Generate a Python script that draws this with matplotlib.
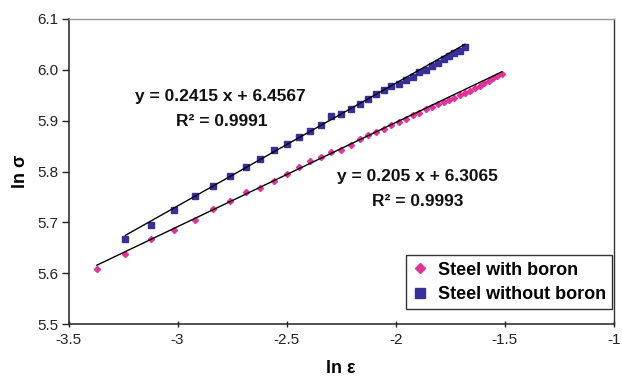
import matplotlib
matplotlib.use("Agg")
import matplotlib.pyplot as plt
import numpy as np

plt.rcParams['font.family'] = ['Liberation Sans', 'DejaVu Sans']

# ---- data ----
x_boron = [-3.370, -3.239, -3.121, -3.017, -2.922, -2.838, -2.758, -2.688, -2.621, -2.558,
           -2.497, -2.444, -2.391, -2.341, -2.295, -2.249, -2.206, -2.165, -2.127, -2.089,
           -2.055, -2.020, -1.985, -1.954, -1.923, -1.893, -1.862, -1.835, -1.807, -1.780,
           -1.756, -1.731, -1.706, -1.683, -1.661, -1.638, -1.615, -1.595, -1.575, -1.555,
           -1.535, -1.515]
y_boron = [5.608, 5.637, 5.667, 5.685, 5.704, 5.727, 5.741, 5.760, 5.768, 5.781,
           5.795, 5.808, 5.821, 5.829, 5.838, 5.843, 5.852, 5.863, 5.871, 5.878,
           5.884, 5.891, 5.898, 5.904, 5.911, 5.916, 5.922, 5.927, 5.932, 5.937,
           5.941, 5.945, 5.950, 5.954, 5.959, 5.964, 5.969, 5.974, 5.978, 5.983,
           5.987, 5.991]

x_noboron = [-3.239, -3.121, -3.017, -2.922, -2.838, -2.758, -2.688, -2.621, -2.558,
             -2.497, -2.444, -2.391, -2.341, -2.295, -2.249, -2.206, -2.165, -2.127, -2.089,
             -2.055, -2.020, -1.985, -1.954, -1.923, -1.893, -1.862, -1.835, -1.807, -1.780,
             -1.756, -1.731, -1.706, -1.683]
y_noboron = [5.667, 5.695, 5.724, 5.751, 5.771, 5.791, 5.809, 5.824, 5.842,
             5.855, 5.867, 5.879, 5.892, 5.909, 5.913, 5.922, 5.932, 5.942, 5.953,
             5.960, 5.968, 5.973, 5.980, 5.986, 5.995, 6.000, 6.008, 6.014, 6.021,
             6.027, 6.033, 6.038, 6.044]

# trend line coefficients (slope, intercept)
fit_boron = (0.205, 6.3065)
fit_noboron = (0.2415, 6.4567)

series_labels = ["Steel with boron", "Steel without boron"]
eq_boron = ["y = 0.205 x + 6.3065", "R\u00b2 = 0.9993"]
eq_noboron = ["y = 0.2415 x + 6.4567", "R\u00b2 = 0.9991"]

xticks = [-3.5, -3, -2.5, -2, -1.5, -1]
xtick_labels = ["-3.5", "-3", "-2.5", "-2", "-1.5", "-1"]
yticks = [5.5, 5.6, 5.7, 5.8, 5.9, 6.0, 6.1]
ytick_labels = ["5.5", "5.6", "5.7", "5.8", "5.9", "6.0", "6.1"]

pink = '#E2339A'
navy = '#3A2F98'

fig = plt.figure(figsize=(6.22, 3.76), dpi=100)
left_px, right_px, top_px, bot_px = 68.5, 614.0, 19.0, 324.0
ax = fig.add_axes([left_px / 622, 1 - bot_px / 376, (right_px - left_px) / 622, (bot_px - top_px) / 376])

# trend lines
for xs, (m, b) in ((x_boron, fit_boron), (x_noboron, fit_noboron)):
    xl = np.array([min(xs), max(xs)])
    ax.plot(xl, m * xl + b, color='black', lw=1.0, zorder=3)

ax.plot(x_boron, y_boron, linestyle='none', marker='D', ms=3.1, color=pink,
        mec=pink, label=series_labels[0], zorder=2)
ax.plot(x_noboron, y_noboron, linestyle='none', marker='s', ms=4.1, color=navy,
        mec=navy, label=series_labels[1], zorder=2)

ax.set_xlim(-3.5, -1)
ax.set_ylim(5.5, 6.1)
ax.set_xticks(xticks)
ax.set_xticklabels(xtick_labels)
ax.set_yticks(yticks)
ax.set_yticklabels(ytick_labels)
ax.tick_params(axis='y', direction='out', length=5, width=1, labelsize=11, colors='#222222', pad=2)
ax.tick_params(axis='x', direction='inout', length=5, width=1, labelsize=11, colors='#222222', pad=4)

for s in ('left', 'bottom'):
    ax.spines[s].set_color('#222222')
    ax.spines[s].set_linewidth(1.1)
ax.spines['top'].set_color('#999999')
ax.spines['top'].set_linewidth(1.0)
ax.spines['right'].set_color('#333333')
ax.spines['right'].set_linewidth(1.0)

ax.set_xlabel("ln \u03b5", fontsize=13, fontweight='bold', labelpad=9)
ax.set_ylabel("ln \u03c3", fontsize=13, fontweight='bold', labelpad=6)

# equation annotations
tkw = dict(ha='center', va='center', fontsize=12.5, fontweight='bold', color='#111111')
ax.text(-2.806, 5.947, eq_noboron[0], **tkw)
ax.text(-2.797, 5.898, eq_noboron[1], **tkw)
ax.text(-1.901, 5.790, eq_boron[0], **tkw)
ax.text(-1.898, 5.741, eq_boron[1], **tkw)

leg = ax.legend(loc='lower right', bbox_to_anchor=(0.9965, 0.048), borderaxespad=0,
                fancybox=False, frameon=True, edgecolor='#333333', framealpha=1,
                prop={'weight': 'bold', 'size': 13}, handlelength=0.8,
                handletextpad=0.6, borderpad=0.35, labelspacing=0.4, markerscale=1.6)
leg.get_frame().set_linewidth(1.0)

fig.savefig("out.png", dpi=100)
